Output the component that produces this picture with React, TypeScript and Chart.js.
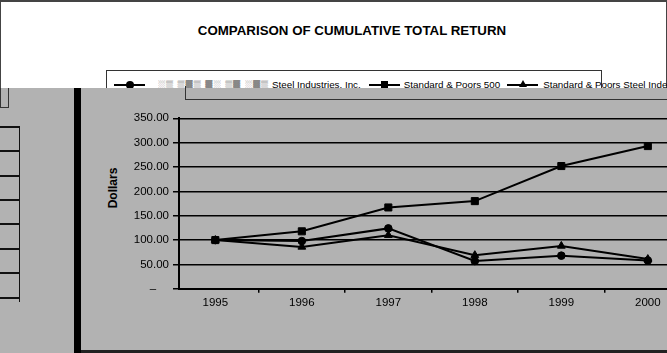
import React, { useEffect, useRef } from 'react';
import { Chart, registerables } from 'chart.js';

Chart.register(...registerables);

const years = ['1995', '1996', '1997', '1998', '1999', '2000'];
const companyValues = [100, 98, 124, 57, 68, 58];
const sp500Values = [100, 118, 167, 180, 252, 293];
const spSteelValues = [100, 86, 110, 69, 88, 61];
const seriesNames = ['Steel Industries, Inc.', 'Standard & Poors 500', 'Standard & Poors Steel Index'];
const redactedName = '░▒ ▒▓▒ ▓░ ▒▓ ░▓▒';
const chartTitle = 'COMPARISON OF CUMULATIVE TOTAL RETURN';
const yAxisTitle = 'Dollars';
const yMin = 0;
const yMax = 350;
const yStep = 50;
const xMin = 1994.58;
const xMax = 2000.58;

const FONT = '"Liberation Sans", Arial, Helvetica, sans-serif';
const GRAY = '#b2b2b2';
const DARK = '#333';

function Marker({ shape }: { shape: 'circle' | 'square' | 'triangle' }) {
  let m: React.CSSProperties;
  if (shape === 'circle') {
    m = { width: 8, height: 8, borderRadius: '50%', background: '#000', left: 12, top: -3 };
  } else if (shape === 'square') {
    m = { width: 7, height: 7, background: '#000', left: 12, top: -2.5 };
  } else {
    m = { width: 0, height: 0, borderLeft: '4px solid transparent', borderRight: '4px solid transparent', borderBottom: '7px solid #000', left: 12, top: -4 };
  }
  return (
    <span style={{ position: 'relative', display: 'inline-block', width: 31, height: 2, background: '#000', verticalAlign: 'middle' }}>
      <span style={{ position: 'absolute', ...m }} />
    </span>
  );
}

export default function App() {
  const ref = useRef<HTMLCanvasElement>(null);

  useEffect(() => {
    const common = {
      borderColor: '#000',
      backgroundColor: '#000',
      pointBackgroundColor: '#000',
      pointBorderColor: '#000',
      pointBorderWidth: 1,
      borderWidth: 2,
      tension: 0,
      fill: false,
    };
    const toPoints = (vals: number[]) => vals.map((v, i) => ({ x: Number(years[i]), y: v }));
    const chart = new Chart(ref.current!, {
      type: 'line',
      data: {
        datasets: [
          { ...common, label: seriesNames[0], data: toPoints(companyValues), pointStyle: 'circle', pointRadius: 3.8 },
          { ...common, label: seriesNames[1], data: toPoints(sp500Values), pointStyle: 'rect', pointRadius: 5 },
          { ...common, label: seriesNames[2], data: toPoints(spSteelValues), pointStyle: 'triangle', pointRadius: 4.5 },
        ],
      },
      options: {
        animation: false,
        responsive: false,
        layout: { padding: { top: 18.3, left: 0, right: 0, bottom: 0 } },
        plugins: {
          legend: { display: false },
          title: { display: false },
          tooltip: { enabled: false },
        },
        scales: {
          x: {
            type: 'linear',
            min: xMin,
            max: xMax,
            afterBuildTicks: (s: any) => { s.ticks = years.map((y) => ({ value: Number(y) })); },
            grid: { offset: true, drawOnChartArea: false, color: '#000', tickLength: 4, lineWidth: 1.5 },
            border: { color: '#000', width: 2 },
            ticks: {
              color: '#000',
              font: { family: FONT, size: 11.5 },
              padding: 3,
              maxRotation: 0,
              autoSkip: false,
              callback: (v: any) => String(v),
            },
            afterFit: (s: any) => { s.height = 61.2; },
          },
          y: {
            min: yMin,
            max: yMax,
            ticks: {
              stepSize: yStep,
              color: '#000',
              font: { family: FONT, size: 11.5 },
              padding: 4,
              callback: (v: any) => (Number(v) === 0 ? '–    ' : Number(v).toFixed(2)),
            },
            grid: { color: '#000', lineWidth: 1.5, tickLength: 6 },
            border: { color: '#000', width: 2 },
            afterFit: (s: any) => { s.width = 89; },
          },
        },
      },
    });
    return () => chart.destroy();
  }, []);

  const tableLines = [126, 150, 175, 199, 223, 248, 272, 297];

  return (
    <div style={{ position: 'fixed', left: 0, top: 0, width: 667, height: 353, overflow: 'hidden', background: GRAY, fontFamily: FONT }}>
      {/* top white report area */}
      <div style={{ position: 'absolute', left: 0, top: 0, width: 667, height: 88, background: '#fff', borderTop: '2px solid #444', borderLeft: '1.5px solid #444', borderRight: '1.5px solid #444', boxSizing: 'border-box' }} />
      <div style={{ position: 'absolute', left: 352, top: 23, transform: 'translateX(-50%)', whiteSpace: 'nowrap', fontWeight: 'bold', fontSize: 13.3, color: '#000' }}>{chartTitle}</div>
      {/* legend box */}
      <div style={{ position: 'absolute', left: 106, top: 70, width: 496, height: 20, background: '#fff', border: `1px solid ${DARK}`, boxSizing: 'border-box' }} />
      <div style={{ position: 'absolute', left: 114, top: 79.5, height: 10, lineHeight: '10px', whiteSpace: 'nowrap', fontSize: 9.8, color: '#000', display: 'flex', alignItems: 'center' }}>
        <Marker shape="circle" />
        <span style={{ marginLeft: 13, color: '#6e6e6e', letterSpacing: 1 }}>{redactedName}</span>
        <span style={{ marginLeft: 3 }}>{seriesNames[0]}</span>
        <span style={{ marginLeft: 8 }}><Marker shape="square" /></span>
        <span style={{ marginLeft: 4 }}>{seriesNames[1]}</span>
        <span style={{ marginLeft: 7 }}><Marker shape="triangle" /></span>
        <span style={{ marginLeft: 5 }}>{seriesNames[2]}</span>
      </div>
      {/* gray chart panel */}
      <div style={{ position: 'absolute', left: 0, top: 88, width: 667, height: 265, background: GRAY }} />
      {/* left leftovers */}
      <div style={{ position: 'absolute', left: 0, top: 88, width: 9, height: 20, borderRight: `1px solid ${DARK}`, borderBottom: `1px solid ${DARK}`, borderLeft: `1px solid ${DARK}`, boxSizing: 'border-box' }} />
      <div style={{ position: 'absolute', left: 18.5, top: 126, width: 1.5, height: 176, background: '#111' }} />
      {tableLines.map((y) => (
        <div key={y} style={{ position: 'absolute', left: 0, top: y, width: 20, height: 1.5, background: '#111' }} />
      ))}
      <div style={{ position: 'absolute', left: 74, top: 88, width: 7, height: 265, background: '#000' }} />
      <div style={{ position: 'absolute', left: 185, top: 86, width: 500, height: 13, borderLeft: `1px solid ${DARK}`, borderBottom: `1px solid ${DARK}` }} />
      <div style={{ position: 'absolute', left: 81, top: 350, width: 600, height: 3, background: '#222' }} />
      {/* y axis title */}
      <div style={{ position: 'absolute', left: 113, top: 188, transform: 'translate(-50%, -50%) rotate(-90deg)', fontWeight: 'bold', fontSize: 12, whiteSpace: 'nowrap', color: '#000' }}>{yAxisTitle}</div>
      {/* chart */}
      <div style={{ position: 'absolute', left: 90, top: 100, width: 614, height: 250 }}>
        <canvas ref={ref} width={614} height={250} style={{ display: 'block' }} />
      </div>
    </div>
  );
}
